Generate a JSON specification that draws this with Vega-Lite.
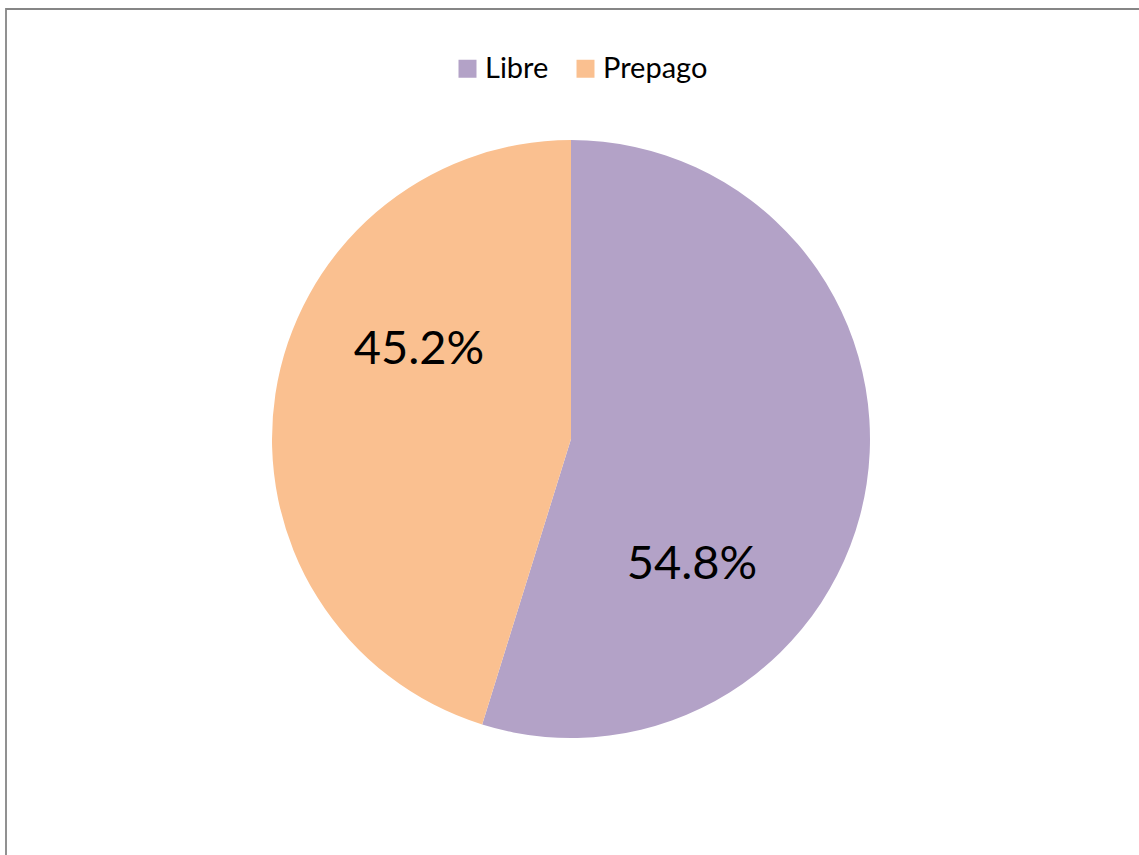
{
  "$schema": "https://vega.github.io/schema/vega-lite/v6.json",
  "width": 1140,
  "height": 860,
  "autosize": {"type": "none"},
  "padding": {"left": 6, "top": 9, "right": 0, "bottom": 0},
  "background": "white",
  "view": {"stroke": "#868686", "strokeWidth": 1.8, "fill": "white"},
  "config": {"view": {"stroke": "#868686", "strokeWidth": 1.8}},
  "data": {"values": [
    {"tipo": "Libre", "share": 0.548},
    {"tipo": "Prepago", "share": 0.452}
  ]},
  "encoding": {
    "theta": {"field": "share", "type": "quantitative", "stack": true},
    "order": {"field": "tipo", "type": "nominal", "sort": "ascending"}
  },
  "layer": [
    {
      "mark": {"type": "arc", "radius": 299, "xOffset": -5},
      "encoding": {
        "color": {
          "field": "tipo",
          "type": "nominal",
          "scale": {"domain": ["Libre", "Prepago"], "range": ["#B3A2C7", "#FAC090"]},
          "legend": {
            "orient": "none",
            "legendX": 447,
            "legendY": 45,
            "direction": "horizontal",
            "title": null,
            "padding": 0,
            "symbolType": "square",
            "symbolSize": 324,
            "symbolStrokeWidth": 0,
            "symbolOpacity": 1,
            "labelFont": "Lato",
            "labelFontSize": 29,
            "labelColor": "black",
            "labelOffset": 3,
            "columnPadding": 22
          }
        }
      }
    },
    {
      "mark": {
        "type": "text",
        "radius": 175,
        "xOffset": -5,
        "font": "Lato",
        "fontSize": 47,
        "fill": "black",
        "dx": {"expr": "datum.tipo === 'Libre' ? -52 : 21"},
        "dy": {"expr": "datum.tipo === 'Libre' ? 100 : -63"}
      },
      "encoding": {
        "detail": {"field": "tipo", "type": "nominal"},
        "text": {"field": "share", "type": "quantitative", "format": ".1%"}
      }
    }
  ]
}
